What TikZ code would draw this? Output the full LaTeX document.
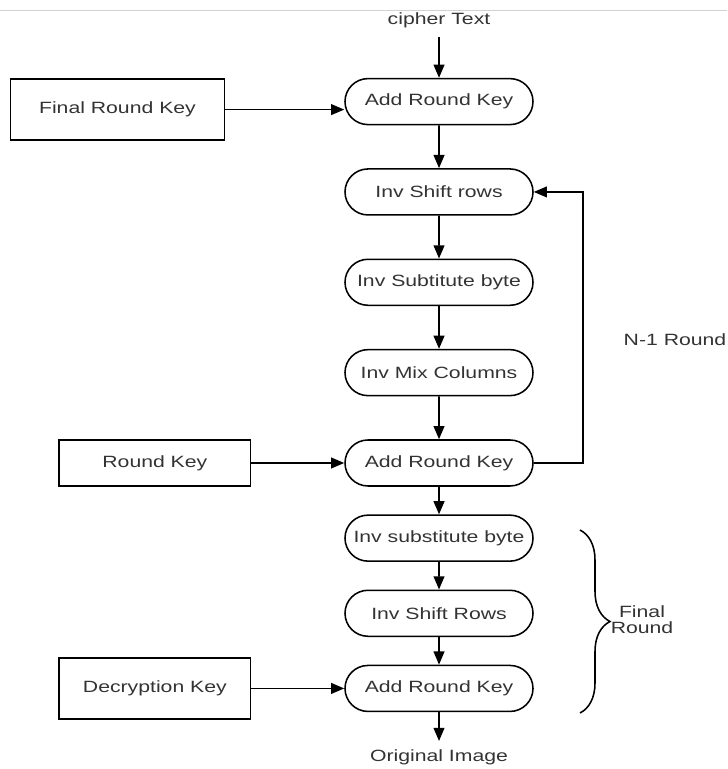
\documentclass[tikz,border=0pt]{standalone}
\usepackage{fontspec}
\setmainfont{Liberation Sans}[FakeStretch=1.3]
\usetikzlibrary{arrows.meta,positioning,shapes.misc,decorations.pathreplacing}

\begin{document}
\begin{tikzpicture}[
    node distance=1.07cm,
    font=\fontsize{11.6}{11.4}\selectfont,
    stage/.style={draw, rounded rectangle, line width=1.1pt, minimum width=4.7cm, minimum height=1.15cm, inner sep=0pt, text=black!80},
    key/.style={draw, line width=1.1pt, minimum width=4.78cm, minimum height=1.15cm, inner sep=0pt, text=black!80},
    tag/.style={align=center, inner sep=6pt, text=black!80},
    arrow/.style={-{Triangle[length=3.3mm, width=2.7mm]}, line width=1.2pt}
  ]
    \useasboundingbox (0,0) rectangle (18.175,-19.225);
    \draw[gray!35, line width=0.6pt] (0,-0.25) -- (18.175,-0.25);
    % rounds
    \node[stage] (ark1) at (10.975,-2.54) {Add Round Key};
    \node[stage, below=of ark1] (isr) {Inv Shift rows};
    \node[stage, below=of isr] (isb) {Inv Subtitute byte};
    \node[stage, below=of isb] (imc) {Inv Mix Columns};
    \node[stage, below=of imc] (ark2) {Add Round Key};
    \node[stage, below=0.69cm of ark2] (isb2) {Inv substitute byte};
    \node[stage, below=0.69cm of isb2] (isr2) {Inv Shift Rows};
    \node[stage, below=0.69cm of isr2] (ark3) {Add Round Key};
    \node[tag, above=1.02cm of ark1] (cipher) {cipher Text};
    \node[tag, below=0.72cm of ark3] (image) {Original Image};
    % keys
    \node[key, minimum width=5.35cm, minimum height=1.525cm, left=2.975cm of ark1, yshift=-0.2cm] (frk) {Final Round Key};
    \node[key, left=2.325cm of ark2] (rk) {Round Key};
    \node[key, minimum height=1.525cm, left=2.325cm of ark3] (dk) {Decryption Key};
    % side labels
    \node[tag] (nround) at (16.875,-8.5) {N-1 Round};
    \node[tag] (final) at (16.05,-15.5) {Final\\Round};
    \draw[decorate, decoration={brace, amplitude=0.75cm}, line width=1.1pt] (14.5,-13.25) -- (14.5,-17.825);
    \draw[arrow] (cipher) -- (ark1);
    \draw[arrow] (ark1) -- (isr);
    \draw[arrow] (isr) -- (isb);
    \draw[arrow] (isb) -- (imc);
    \draw[arrow] (imc) -- (ark2);
    \draw[arrow] (ark2) -- (isb2);
    \draw[arrow] (isb2) -- (isr2);
    \draw[arrow] (isr2) -- (ark3);
    \draw[arrow] (ark3) -- (image);
    \draw[arrow] (frk.east) -- (frk.east -| ark1.west);
    \draw[arrow] (rk) -- (ark2);
    \draw[arrow] (dk) -- (ark3);
    \draw[arrow] (ark2.east) -- ++(1.225,0) |- (isr.east);
  \end{tikzpicture}
\end{document}
